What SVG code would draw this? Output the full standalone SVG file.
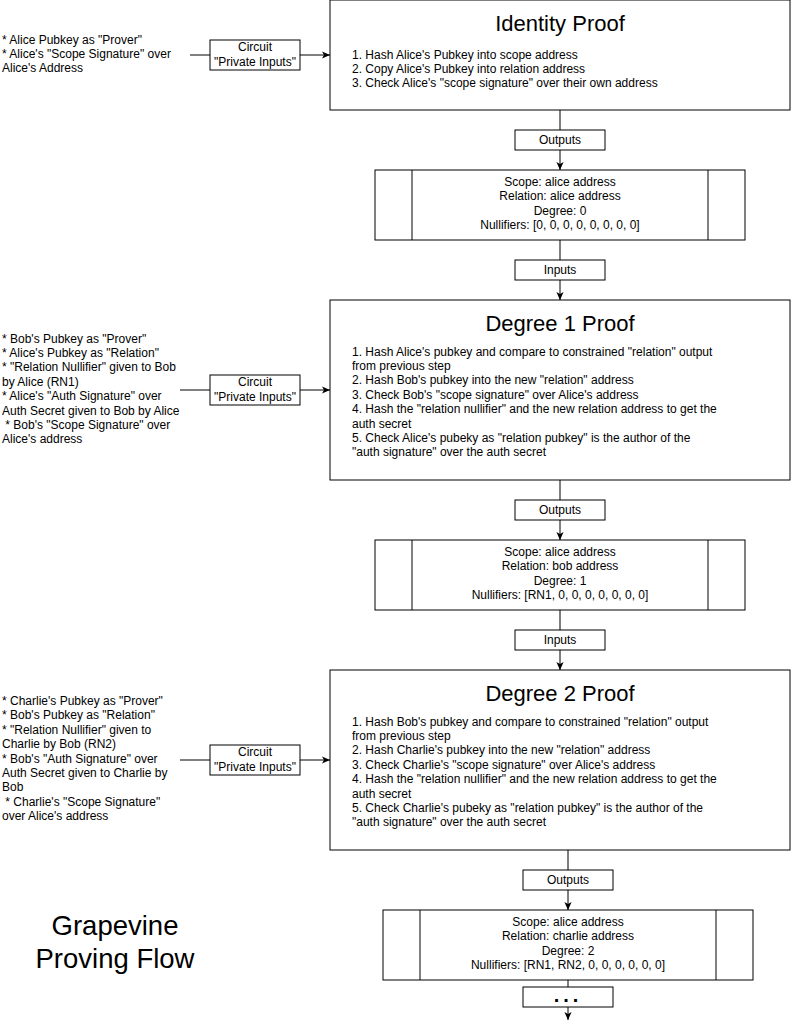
<svg xmlns="http://www.w3.org/2000/svg" width="791" height="1029" viewBox="0 0 791 1029">
<defs>
<style>
text{font-family:"Liberation Sans",Arial,sans-serif;fill:#000;white-space:pre}
.box{fill:#fff;stroke:#000;stroke-width:1}
.lbl{fill:#fff;stroke:#000;stroke-width:1}
.t12{font-size:12px}
.c{text-anchor:middle}
.title{font-size:22px;text-anchor:middle}
.edge{fill:none;stroke:#000;stroke-width:1}
</style>
<marker id="arr" viewBox="0 0 10 10" refX="10" refY="5" markerWidth="8" markerHeight="8" markerUnits="userSpaceOnUse" orient="auto">
<path d="M0,0.5 L10,5 L0,9.5 L2.5,5 Z" fill="#000"/>
</marker>
</defs>
<rect width="791" height="1029" fill="#fff"/>

<g id="connectors">
<path class="edge" d="M190,55 L330,55" marker-end="url(#arr)"/>
<path class="edge" d="M180,390 L330,390" marker-end="url(#arr)"/>
<path class="edge" d="M180,760 L330,760" marker-end="url(#arr)"/>
<path class="edge" d="M560,110 L560,170" marker-end="url(#arr)"/>
<path class="edge" d="M560,240 L560,300" marker-end="url(#arr)"/>
<path class="edge" d="M560,480 L560,540" marker-end="url(#arr)"/>
<path class="edge" d="M560,610 L560,670" marker-end="url(#arr)"/>
<path class="edge" d="M568,850 L568,910" marker-end="url(#arr)"/>
<path class="edge" d="M568,980 L568,1020" marker-end="url(#arr)"/>
</g>

<g id="label-circuit-1">
<rect class="lbl" x="210" y="40" width="90" height="30"/>
<text class="t12 c" x="255" y="51">Circuit</text>
<text class="t12 c" x="255" y="65.5">"Private Inputs"</text>
</g>
<g id="label-circuit-2">
<rect class="lbl" x="210" y="375" width="90" height="30"/>
<text class="t12 c" x="255" y="386">Circuit</text>
<text class="t12 c" x="255" y="400.5">"Private Inputs"</text>
</g>
<g id="label-circuit-3">
<rect class="lbl" x="210" y="745" width="90" height="30"/>
<text class="t12 c" x="255" y="756">Circuit</text>
<text class="t12 c" x="255" y="770.5">"Private Inputs"</text>
</g>

<g id="label-outputs-1">
<rect class="lbl" x="515" y="130" width="90" height="20"/>
<text class="t12 c" x="560" y="144">Outputs</text>
</g>
<g id="label-inputs-1">
<rect class="lbl" x="515" y="260" width="90" height="20"/>
<text class="t12 c" x="560" y="274">Inputs</text>
</g>
<g id="label-outputs-2">
<rect class="lbl" x="515" y="500" width="90" height="20"/>
<text class="t12 c" x="560" y="514">Outputs</text>
</g>
<g id="label-inputs-2">
<rect class="lbl" x="515" y="630" width="90" height="20"/>
<text class="t12 c" x="560" y="644">Inputs</text>
</g>
<g id="label-outputs-3">
<rect class="lbl" x="523" y="870" width="90" height="20"/>
<text class="t12 c" x="568" y="884">Outputs</text>
</g>
<g id="label-more">
<rect class="lbl" x="523" y="987" width="90" height="20"/>
<text class="c" x="568" y="1002" style="font-size:20px;font-weight:bold;letter-spacing:4px">...</text>
</g>

<g id="inputs-identity">
<text class="t12" x="2" y="43.6">* Alice Pubkey as "Prover"</text>
<text class="t12" x="2" y="58">* Alice's "Scope Signature" over</text>
<text class="t12" x="2" y="72.4">Alice's Address</text>
</g>

<g id="identity-proof">
<rect class="box" x="330" y="0" width="460" height="110"/>
<text class="title" x="560" y="31">Identity Proof</text>
<text class="t12" x="352" y="58.5">1. Hash Alice's Pubkey into scope address</text>
<text class="t12" x="352" y="72.5">2. Copy Alice's Pubkey into relation address</text>
<text class="t12" x="352" y="86.5">3. Check Alice's "scope signature" over their own address</text>
</g>

<g id="outputs-identity">
<rect class="box" x="375" y="170" width="370" height="70"/>
<line class="edge" x1="412" y1="170" x2="412" y2="240"/>
<line class="edge" x1="708" y1="170" x2="708" y2="240"/>
<text class="t12 c" x="560" y="186">Scope: alice address</text>
<text class="t12 c" x="560" y="200.4">Relation: alice address</text>
<text class="t12 c" x="560" y="214.8">Degree: 0</text>
<text class="t12 c" x="560" y="229.2">Nullifiers: [0, 0, 0, 0, 0, 0, 0, 0]</text>
</g>

<g id="inputs-degree1">
<text class="t12" x="2" y="342.6">* Bob's Pubkey as "Prover"</text>
<text class="t12" x="2" y="357">* Alice's Pubkey as "Relation"</text>
<text class="t12" x="2" y="371.4">* "Relation Nullifier" given to Bob</text>
<text class="t12" x="2" y="385.8">by Alice (RN1)</text>
<text class="t12" x="2" y="400.2">* Alice's "Auth Signature" over</text>
<text class="t12" x="2" y="414.6">Auth Secret given to Bob by Alice</text>
<text class="t12" x="2" y="429"> * Bob's "Scope Signature" over</text>
<text class="t12" x="2" y="443.4">Alice's address</text>
</g>

<g id="degree1-proof">
<rect class="box" x="330" y="300" width="460" height="180"/>
<text class="title" x="560" y="331">Degree 1 Proof</text>
<text class="t12" x="352" y="355.5">1. Hash Alice's pubkey and compare to constrained "relation" output</text>
<text class="t12" x="352" y="369.9">from previous step</text>
<text class="t12" x="352" y="384.3">2. Hash Bob's pubkey into the new "relation" address</text>
<text class="t12" x="352" y="398.7">3. Check Bob's "scope signature" over Alice's address</text>
<text class="t12" x="352" y="413.1">4. Hash the "relation nullifier" and the new relation address to get the</text>
<text class="t12" x="352" y="427.5">auth secret</text>
<text class="t12" x="352" y="441.9">5. Check Alice's pubeky as "relation pubkey" is the author of the</text>
<text class="t12" x="352" y="456.3">"auth signature" over the auth secret</text>
</g>

<g id="outputs-degree1">
<rect class="box" x="375" y="540" width="370" height="70"/>
<line class="edge" x1="412" y1="540" x2="412" y2="610"/>
<line class="edge" x1="708" y1="540" x2="708" y2="610"/>
<text class="t12 c" x="560" y="556">Scope: alice address</text>
<text class="t12 c" x="560" y="570.4">Relation: bob address</text>
<text class="t12 c" x="560" y="584.8">Degree: 1</text>
<text class="t12 c" x="560" y="599.2">Nullifiers: [RN1, 0, 0, 0, 0, 0, 0, 0]</text>
</g>

<g id="inputs-degree2">
<text class="t12" x="2" y="705">* Charlie's Pubkey as "Prover"</text>
<text class="t12" x="2" y="719.4">* Bob's Pubkey as "Relation"</text>
<text class="t12" x="2" y="733.8">* "Relation Nullifier" given to</text>
<text class="t12" x="2" y="748.2">Charlie by Bob (RN2)</text>
<text class="t12" x="2" y="762.6">* Bob's "Auth Signature" over</text>
<text class="t12" x="2" y="777">Auth Secret given to Charlie by</text>
<text class="t12" x="2" y="791.4">Bob</text>
<text class="t12" x="2" y="805.8"> * Charlie's "Scope Signature"</text>
<text class="t12" x="2" y="820.2">over Alice's address</text>
</g>

<g id="degree2-proof">
<rect class="box" x="330" y="670" width="460" height="180"/>
<text class="title" x="560" y="701">Degree 2 Proof</text>
<text class="t12" x="352" y="725.5">1. Hash Bob's pubkey and compare to constrained "relation" output</text>
<text class="t12" x="352" y="739.9">from previous step</text>
<text class="t12" x="352" y="754.3">2. Hash Charlie's pubkey into the new "relation" address</text>
<text class="t12" x="352" y="768.7">3. Check Charlie's "scope signature" over Alice's address</text>
<text class="t12" x="352" y="783.1">4. Hash the "relation nullifier" and the new relation address to get the</text>
<text class="t12" x="352" y="797.5">auth secret</text>
<text class="t12" x="352" y="811.9">5. Check Charlie's pubeky as "relation pubkey" is the author of the</text>
<text class="t12" x="352" y="826.3">"auth signature" over the auth secret</text>
</g>

<g id="outputs-degree2">
<rect class="box" x="383" y="910" width="370" height="70"/>
<line class="edge" x1="420" y1="910" x2="420" y2="980"/>
<line class="edge" x1="716" y1="910" x2="716" y2="980"/>
<text class="t12 c" x="568" y="926">Scope: alice address</text>
<text class="t12 c" x="568" y="940.4">Relation: charlie address</text>
<text class="t12 c" x="568" y="954.8">Degree: 2</text>
<text class="t12 c" x="568" y="969.2">Nullifiers: [RN1, RN2, 0, 0, 0, 0, 0, 0]</text>
</g>

<g id="title">
<text class="c" x="115" y="935" style="font-size:27.5px">Grapevine</text>
<text class="c" x="115" y="968" style="font-size:27.5px">Proving Flow</text>
</g>
</svg>
